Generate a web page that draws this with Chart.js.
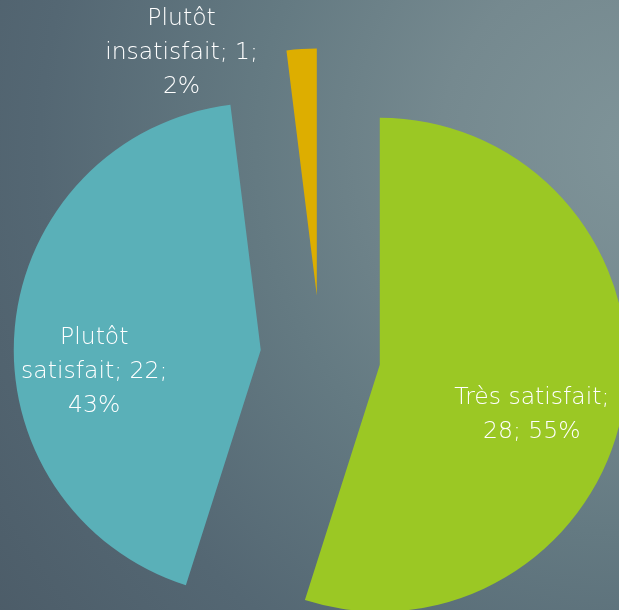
<!DOCTYPE html>
<html>
<head>
<meta charset="utf-8">
<title>Satisfaction</title>
<script src="https://cdn.jsdelivr.net/npm/chart.js"></script>
<style>
  html, body { margin: 0; padding: 0; }
  body {
    width: 619px; height: 610px; overflow: hidden;
    background: radial-gradient(circle 800px at 640px 150px,
      #7f9499 0%, #75898f 25%, #647a82 48%, #546773 75%, #4c5c68 100%);
  }
  #wrap { position: relative; width: 619px; height: 610px; }
</style>
</head>
<body>
<div id="wrap"><canvas id="myChart"></canvas></div>

<script>
const categories = ['Très satisfait', 'Plutôt satisfait', 'Plutôt insatisfait'];
const counts = [28, 22, 1];
const sliceColors = ['#9bc824', '#5ab0b8', '#ddae00'];

// how far each slice is pulled out from the centre (px)
const explode = 60;
// label placement: fraction of the radius from the slice tip, and turn from the slice bisector (deg)
const labelPlacement = [
  { k: 0.648, turn: 9.4 },
  { k: 0.68, turn: -12.8 },
  { k: 1.125, turn: -25.6 }
];
const labelFont = '300 23.5px "DejaVu Sans"';
const lineHeight = 34;
const wrapWidth = 165;

const total = counts.reduce((a, b) => a + b, 0);

function wrapText(ctx, text, maxWidth) {
  const words = text.split(' ');
  const lines = [];
  let line = '';
  words.forEach(w => {
    const test = line ? line + ' ' + w : w;
    if (line && ctx.measureText(test).width > maxWidth) {
      lines.push(line);
      line = w;
    } else {
      line = test;
    }
  });
  if (line) lines.push(line);
  return lines;
}

// draws each arc shifted along its bisector
const explodedPie = {
  id: 'explodedPie',
  beforeDatasetDraw(chart, args) {
    const ctx = chart.ctx;
    args.meta.data.forEach(arc => {
      const mid = (arc.startAngle + arc.endAngle) / 2;
      ctx.save();
      ctx.translate(Math.cos(mid) * explode, Math.sin(mid) * explode);
      arc.draw(ctx);
      ctx.restore();
    });
    return false;
  }
};

const sliceLabels = {
  id: 'sliceLabels',
  afterDatasetsDraw(chart) {
    const ctx = chart.ctx;
    const meta = chart.getDatasetMeta(0);
    ctx.save();
    ctx.font = labelFont;
    ctx.fillStyle = '#ffffff';
    ctx.textAlign = 'center';
    ctx.textBaseline = 'middle';
    meta.data.forEach((arc, i) => {
      const mid = (arc.startAngle + arc.endAngle) / 2;
      const tipX = arc.x + Math.cos(mid) * explode;
      const tipY = arc.y + Math.sin(mid) * explode;
      const p = labelPlacement[i];
      const a = mid + p.turn * Math.PI / 180;
      const cx = tipX + Math.cos(a) * arc.outerRadius * p.k;
      const cy = tipY + Math.sin(a) * arc.outerRadius * p.k;
      const pct = Math.round(counts[i] / total * 100);
      const text = categories[i] + '; ' + counts[i] + '; ' + pct + '%';
      const lines = wrapText(ctx, text, wrapWidth);
      const y0 = cy - (lines.length - 1) * lineHeight / 2;
      lines.forEach((l, j) => ctx.fillText(l, cx, y0 + j * lineHeight));
    });
    ctx.restore();
  }
};

const ctx = document.getElementById('myChart');
new Chart(ctx, {
  type: 'pie',
  data: {
    labels: categories,
    datasets: [{
      data: counts,
      backgroundColor: sliceColors,
      borderWidth: 0,
      clip: false
    }]
  },
  options: {
    responsive: true,
    maintainAspectRatio: false,
    animation: false,
    events: [],
    radius: 247,
    layout: { padding: { left: 22, top: 101, right: 0, bottom: 0 } },
    plugins: {
      legend: { display: false },
      tooltip: { enabled: false }
    }
  },
  plugins: [explodedPie, sliceLabels]
});
</script>
</body>
</html>
